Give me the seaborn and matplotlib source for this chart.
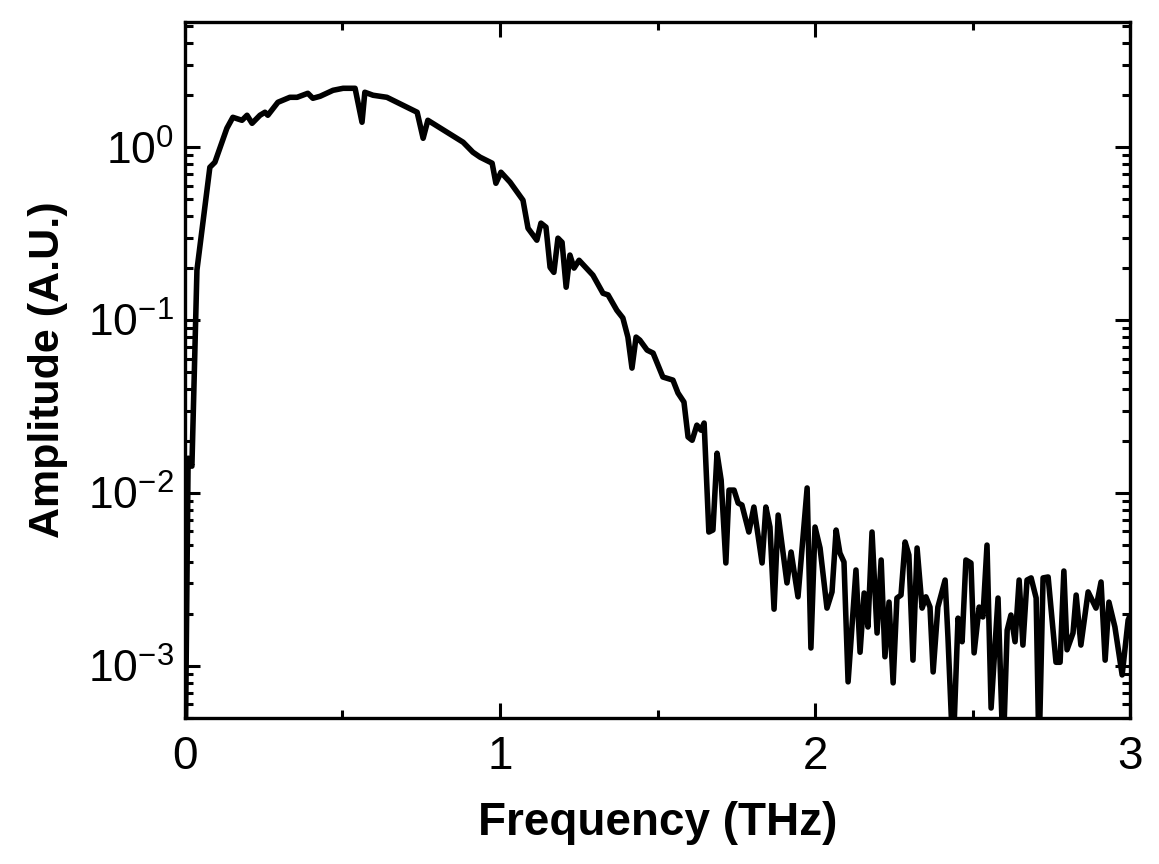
import numpy as np
import pandas as pd
import seaborn as sns
import matplotlib
matplotlib.use("Agg")
import matplotlib.pyplot as plt
from matplotlib.ticker import MultipleLocator, LogLocator

# ---- data ----
freq_thz = [
    0.000, 0.010, 0.022, 0.038, 0.079, 0.095, 0.133, 0.152, 0.181, 0.197,
    0.213, 0.238, 0.254, 0.263, 0.295, 0.333, 0.356, 0.390, 0.406, 0.429,
    0.470, 0.502, 0.540, 0.562, 0.571, 0.597, 0.641, 0.673, 0.705, 0.737,
    0.756, 0.771, 0.832, 0.883, 0.914, 0.937, 0.975, 0.987, 1.003, 1.032,
    1.073, 1.089, 1.117, 1.130, 1.146, 1.159, 1.171, 1.184, 1.197, 1.210,
    1.222, 1.235, 1.251, 1.295, 1.327, 1.343, 1.371, 1.390, 1.406, 1.419,
    1.432, 1.444, 1.467, 1.486, 1.517, 1.549, 1.565, 1.584, 1.597, 1.610,
    1.625, 1.638, 1.648, 1.663, 1.676, 1.689, 1.702, 1.717, 1.727, 1.743,
    1.756, 1.768, 1.790, 1.806, 1.832, 1.844, 1.857, 1.870, 1.883, 1.911,
    1.924, 1.946, 1.975, 1.987, 2.000, 2.016, 2.038, 2.054, 2.067, 2.079,
    2.092, 2.105, 2.130, 2.143, 2.156, 2.168, 2.181, 2.197, 2.210, 2.222,
    2.235, 2.248, 2.260, 2.273, 2.286, 2.298, 2.311, 2.324, 2.340, 2.352,
    2.365, 2.375, 2.390, 2.413, 2.422, 2.438, 2.454, 2.467, 2.479, 2.495,
    2.505, 2.521, 2.533, 2.546, 2.559, 2.581, 2.597, 2.610, 2.622, 2.635,
    2.648, 2.660, 2.673, 2.686, 2.702, 2.711, 2.724, 2.740, 2.765, 2.778,
    2.790, 2.800, 2.819, 2.829, 2.844, 2.867, 2.892, 2.908, 2.921, 2.933,
    2.952, 2.975, 2.994, 3.000,
]
amplitude = [
    0.0002, 0.0159, 0.0143, 0.195, 0.766, 0.819, 1.288, 1.490, 1.432, 1.531,
    1.376, 1.531, 1.594, 1.531, 1.820, 1.945, 1.945, 2.052, 1.920, 1.972,
    2.135, 2.193, 2.193, 1.395, 2.080, 1.999, 1.945, 1.820, 1.703, 1.594,
    1.127, 1.432, 1.221, 1.069, 0.936, 0.876, 0.809, 0.619, 0.717, 0.628,
    0.494, 0.340, 0.290, 0.364, 0.345, 0.202, 0.189, 0.298, 0.282, 0.155,
    0.238, 0.200, 0.222, 0.182, 0.143, 0.140, 0.114, 0.103, 0.0798, 0.0528,
    0.0798, 0.0766, 0.0671, 0.0645, 0.0469, 0.0450, 0.0379, 0.0336, 0.0211, 0.0202,
    0.0247, 0.0231, 0.0254, 0.00595, 0.00611, 0.0170, 0.0119, 0.00394, 0.0104, 0.0104,
    0.00875, 0.00853, 0.00595, 0.00830, 0.00394, 0.00830, 0.00636, 0.00213, 0.00746, 0.00302,
    0.00456, 0.00251, 0.0107, 0.00127, 0.00636, 0.00481, 0.00216, 0.00268, 0.00611, 0.00450,
    0.00399, 0.000809, 0.00359, 0.00120, 0.00264, 0.00168, 0.00595, 0.00155, 0.00410, 0.00113,
    0.00234, 0.000798, 0.00247, 0.00257, 0.00521, 0.00438, 0.00108, 0.00481, 0.00216, 0.00251,
    0.00219, 0.000923, 0.00219, 0.00314, 0.00147, 0.0003, 0.00189, 0.00138, 0.00410, 0.00394,
    0.00119, 0.00219, 0.00192, 0.00500, 0.000571, 0.00247, 0.0003, 0.00161, 0.00197, 0.00138,
    0.00314, 0.00132, 0.00314, 0.00323, 0.00247, 0.0003, 0.00323, 0.00327, 0.00105, 0.00105,
    0.00354, 0.00124, 0.00155, 0.00257, 0.00132, 0.00268, 0.00216, 0.00306, 0.00108, 0.00234,
    0.00168, 0.000887, 0.00184, 0.00196,
]
x_ticks = [0, 1, 2, 3]
x_tick_labels = ["0", "1", "2", "3"]
x_label = "Frequency (THz)"
y_label = "Amplitude (A.U.)"

df = pd.DataFrame({"Frequency": freq_thz, "Amplitude": amplitude})

sns.set_theme(style="ticks")
plt.rcParams["font.family"] = ["Liberation Sans", "DejaVu Sans"]
plt.rcParams["mathtext.fontset"] = "custom"
plt.rcParams["mathtext.rm"] = "Liberation Sans"
for k in ["text.color", "axes.labelcolor", "xtick.color", "ytick.color", "axes.edgecolor"]:
    plt.rcParams[k] = "black"

fig = plt.figure(figsize=(11.59, 8.64), dpi=100)
ax = fig.add_axes([0.1596, 0.169, 0.8154, 0.8055])

sns.lineplot(data=df, x="Frequency", y="Amplitude", ax=ax, color="black",
             linewidth=4.0, sort=False, estimator=None)

ax.set_yscale("log")
ax.set_xlim(0, 3)
ax.set_ylim(5.0e-4, 5.3)

ax.xaxis.set_major_locator(MultipleLocator(1))
ax.xaxis.set_minor_locator(MultipleLocator(0.5))
ax.set_xticks(x_ticks)
ax.set_xticklabels(x_tick_labels, fontsize=33)
ax.yaxis.set_major_locator(LogLocator(base=10, numticks=10))
ax.yaxis.set_minor_locator(LogLocator(base=10, subs=np.arange(2, 10), numticks=20))
ax.tick_params(axis="y", which="major", labelsize=32)

ax.tick_params(which="both", direction="in", top=True, right=True, color="black")
ax.tick_params(which="major", length=11, width=2.2)
ax.tick_params(which="minor", length=6, width=2.2)
ax.tick_params(axis="x", which="major", pad=12)
ax.tick_params(axis="y", which="major", pad=8)

for sp in ax.spines.values():
    sp.set_linewidth(2.4)
    sp.set_color("black")

ax.set_xlabel(x_label, fontsize=33, fontweight="bold", labelpad=16)
ax.set_ylabel(y_label, fontsize=31, fontweight="bold", labelpad=14)

fig.savefig("out.png", dpi=100)
